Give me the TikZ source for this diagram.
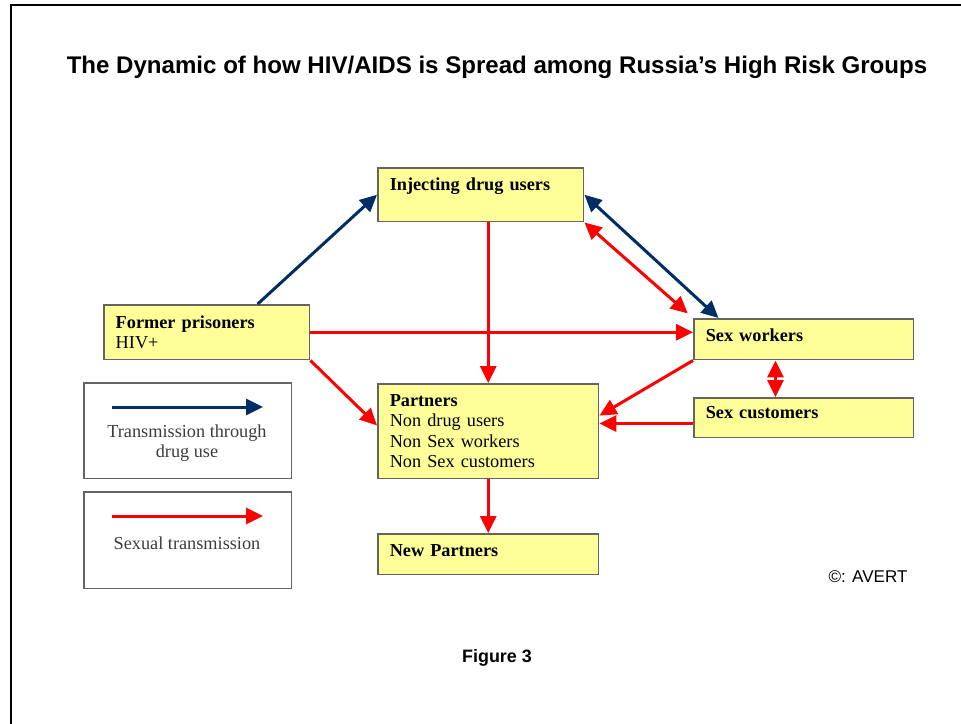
\documentclass[tikz,border=0pt]{standalone}
\usepackage{fontspec}
\setmainfont{Liberation Serif}
\newfontfamily\helvfont{Liberation Sans}
\usetikzlibrary{arrows.meta}
\definecolor{boxyellow}{RGB}{255,255,153}
\definecolor{drugblue}{RGB}{0,45,100}
\definecolor{sexred}{RGB}{255,0,0}
\definecolor{boxgray}{RGB}{100,100,100}
\definecolor{legtextgray}{RGB}{60,60,60}

\begin{document}
\begin{tikzpicture}[x=0.02cm, y=-0.02cm, >={Triangle[length=0.34cm, width=0.32cm]},
	grp/.style={draw=boxgray, line width=0.03cm, fill=boxyellow, anchor=north west,
		inner xsep=0.24cm, inner ysep=0pt, align=left, font=\fontsize{10.4}{11.7}\selectfont},
	legbox/.style={draw=boxgray, line width=0.03cm, anchor=north west, minimum width=4.16cm},
	legtext/.style={align=center, text=legtextgray, font=\fontsize{10.4}{11.7}\selectfont},
	drug/.style={draw=drugblue, line width=0.06cm},
	sex/.style={draw=sexred, line width=0.06cm}]
	\useasboundingbox (0,0) rectangle (961,724);
	
	% 1. frame and title
	\draw[line width=0.05cm] (11,740) -- (11,5) -- (980,5);
	\node[anchor=base, font=\helvfont\bfseries\fontsize{13.7}{16}\selectfont] (title) at (497,73)
		{The Dynamic of how HIV/AIDS is Spread among Russia’s High Risk Groups};
	
	% 2. groups
	\node[grp, minimum width=4.12cm, minimum height=1.08cm, text width=3.64cm, text depth=0.44cm] (inj) at (377,167)
		{\textbf{Injecting drug users}};
	\node[grp, minimum width=4.12cm, minimum height=1.10cm, text width=3.64cm] (prison) at (103,304)
		{\textbf{Former prisoners}\\HIV+};
	\node[grp, minimum width=4.40cm, minimum height=0.82cm, text width=3.92cm, text depth=0.16cm] (sexw) at (693,318)
		{\textbf{Sex workers}};
	\node[grp, minimum width=4.40cm, minimum height=0.80cm, text width=3.92cm, text depth=0.2cm] (sexc) at (693,397)
		{\textbf{Sex customers}};
	\node[grp, minimum width=4.42cm, minimum height=1.90cm, text width=3.94cm] (partners) at (377,383)
		{\textbf{Partners}\\Non drug users\\Non Sex workers\\Non Sex customers};
	\node[grp, minimum width=4.42cm, minimum height=0.82cm, text width=3.94cm, text depth=0.16cm] (newp) at (377,533)
		{\textbf{New Partners}};
	
	% 3. transmission through drug use
	\draw[drug, ->] (prison.29) -- (inj.west);
	\draw[drug, <->] (inj.east) -- (sexw.166);
	
	% 4. sexual transmission
	\draw[sex, <->, shorten >=0.14cm] (inj.south east) -- (sexw.north west);
	\draw[sex, ->] (partners.north |- inj.south) -- (partners.north);
	\draw[sex, ->] (prison.east) -- (prison.east -| sexw.west);
	\draw[sex, ->] (prison.south east) -- (partners.177);
	\draw[sex, ->] (sexw.south west) -- (partners.8);
	\draw[sex, ->] (sexc.183) -- (sexc.183 -| partners.east);
	\draw[sex, <->] (sexw.217) -- (sexw.217 |- sexc.north);
	\draw[sex, ->] (partners.south) -- (newp.north);
	
	% 5. legend
	\node[legbox, minimum height=1.92cm] (legdrug) at (83,382) {};
	\coordinate (legdrugA) at (112,407);
	\coordinate (legdrugB) at (263,407);
	\draw[drug, ->] (legdrugA) -- (legdrugB);
	\node[legtext] (legdrugtxt) at (187,443) {Transmission through\\drug use};
	
	\node[legbox, minimum height=1.94cm] (legsex) at (83,491) {};
	\coordinate (legsexA) at (112,516);
	\coordinate (legsexB) at (263,516);
	\draw[sex, ->] (legsexA) -- (legsexB);
	\node[legtext] (legsextxt) at (187,543) {Sexual transmission};
	
	% 6. source and caption
	\node[anchor=base, font=\helvfont\fontsize{9.7}{12}\selectfont] (avert) at (868,582) {©: AVERT};
	\node[anchor=base, font=\helvfont\bfseries\fontsize{10.2}{12}\selectfont] (fig) at (497,662) {Figure 3};
\end{tikzpicture}
\end{document}
